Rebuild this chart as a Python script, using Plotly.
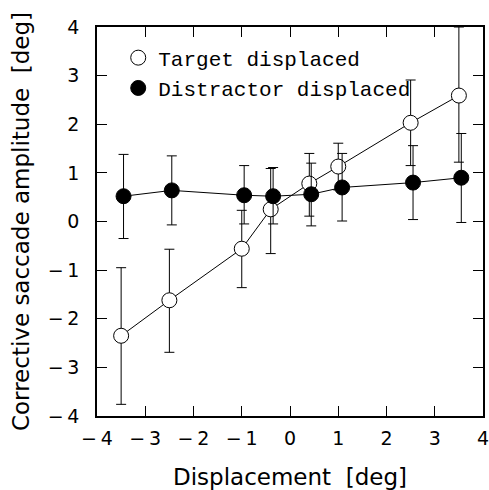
import plotly.graph_objects as go

# ---- data ----
target_x = [-3.5, -2.5, -1.0, -0.4, 0.4, 1.0, 2.5, 3.5]
target_y = [-2.35, -1.62, -0.56, 0.25, 0.78, 1.13, 2.03, 2.59]
target_err_plus = [1.40, 1.05, 0.79, 0.84, 0.62, 0.48, 0.88, 1.41]
target_err_minus = [1.41, 1.07, 0.80, 0.91, 0.67, 0.48, 0.88, 1.37]

distractor_x = [-3.45, -2.45, -0.95, -0.35, 0.44, 1.08, 2.55, 3.55]
distractor_y = [0.52, 0.64, 0.54, 0.52, 0.56, 0.70, 0.80, 0.90]
distractor_err_plus = [0.86, 0.71, 0.61, 0.59, 0.64, 0.70, 0.76, 0.91]
distractor_err_minus = [0.87, 0.71, 0.59, 0.57, 0.65, 0.69, 0.76, 0.92]

tick_vals = [-4, -3, -2, -1, 0, 1, 2, 3, 4]
tick_text = ["\u2212\u20094", "\u2212\u20093", "\u2212\u20092", "\u2212\u20091", "0", "1", "2", "3", "4"]

legend_names = ["Target displaced", "Distractor displaced"]
x_title = "Displacement\u00a0\u00a0[deg]"
y_title = "Corrective saccade amplitude\u00a0\u00a0[deg]"

fig = go.Figure()

fig.add_trace(go.Scatter(
    x=target_x, y=target_y, mode="lines+markers", showlegend=False,
    line=dict(color="black", width=1),
    marker=dict(symbol="circle", size=15, color="white", line=dict(color="black", width=1)),
    error_y=dict(type="data", symmetric=False, array=target_err_plus, arrayminus=target_err_minus,
                 color="black", thickness=1, width=5),
))
fig.add_trace(go.Scatter(
    x=distractor_x, y=distractor_y, mode="lines+markers", showlegend=False,
    line=dict(color="black", width=1),
    marker=dict(symbol="circle", size=15, color="black", line=dict(color="black", width=1)),
    error_y=dict(type="data", symmetric=False, array=distractor_err_plus, arrayminus=distractor_err_minus,
                 color="black", thickness=1, width=5),
))

# legend-only entries
fig.add_trace(go.Scatter(
    x=[None], y=[None], mode="markers", name=legend_names[0],
    marker=dict(symbol="circle", size=15, color="white", line=dict(color="black", width=1)),
))
fig.add_trace(go.Scatter(
    x=[None], y=[None], mode="markers", name=legend_names[1],
    marker=dict(symbol="circle", size=15, color="black", line=dict(color="black", width=1)),
))

axis_common = dict(
    tickmode="array", tickvals=tick_vals, ticktext=tick_text,
    ticks="inside", ticklen=10, tickwidth=1, tickcolor="black",
    showline=True, linewidth=1.5, linecolor="black", mirror="ticks",
    showgrid=False, zeroline=False, automargin=False, ticklabeloverflow="allow",
    tickfont=dict(family="DejaVu Sans", size=19, color="black"),
)

fig.update_layout(
    width=489, height=490,
    margin=dict(l=97, r=6, t=27, b=74),
    paper_bgcolor="white", plot_bgcolor="white",
    xaxis=dict(range=[-4, 4], **axis_common, ticklabelstandoff=4,
               title=dict(text=x_title, font=dict(family="DejaVu Sans", size=23, color="black"), standoff=26)),
    yaxis=dict(range=[-4, 4], **axis_common, ticklabelstandoff=12,
               title=dict(text=y_title, font=dict(family="DejaVu Sans", size=23, color="black"), standoff=12)),
    legend=dict(x=0.055, y=0.973, xanchor="left", yanchor="top",
                bgcolor="rgba(0,0,0,0)", borderwidth=0,
                font=dict(family="Liberation Mono", size=21, color="black"),
                itemwidth=30, tracegroupgap=0),
    showlegend=True,
)

fig.write_html("out.html")
